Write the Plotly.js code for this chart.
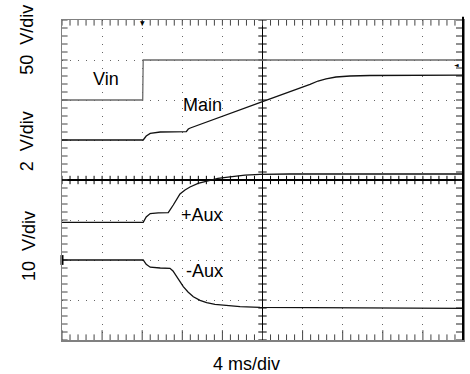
<!DOCTYPE html>
<html>
<head>
<meta charset="utf-8">
<script src="https://cdn.plot.ly/plotly-3.0.1.min.js"></script>
<style>
  html, body {margin: 0; padding: 0; background: #fff;}
  #scope {width: 470px; height: 374px;}
</style>
</head>
<body>
<div id="scope"></div>
<script>
// time in ms (trigger at 0), voltages in volts
const vinT = [-8, 0.05, 0.1, 32]
const vinV = [0, 0, 50, 50]

const mainT = [-8, 0.1, 0.4, 0.8, 1.8, 4.4, 4.6, 4.8, 12.0, 15.74, 16.74, 17.54, 18.34, 19.33, 20.73, 22.72, 32]
const mainV = [0, 0, 0.2, 0.33, 0.4, 0.42, 0.55, 0.6, 1.92, 2.585, 2.785, 2.95, 3.06, 3.15, 3.2, 3.225, 3.24]

const auxPT = [-8, 0.1, 0.4, 0.8, 1.6, 2.6, 3.1, 3.44, 3.77, 4.27, 4.77, 5.57, 6.43, 7.56, 8.76, 10.25, 11.75, 14.7, 32]
const auxPV = [-0.6, -0.6, 0.75, 1.6, 1.8, 1.83, 3.75, 5.25, 6.5, 7.5, 8.25, 9.13, 9.75, 10.4, 10.8, 11.2, 11.4, 11.5, 11.5]

const auxNT = [-8, 0.1, 0.4, 0.8, 1.8, 2.77, 3.07, 3.44, 3.77, 4.1, 4.57, 5.1, 5.77, 6.43, 7.26, 8.09, 9.76, 11.75, 32]
const auxNV = [0, 0, -1.1, -1.8, -2, -2.08, -2.75, -4.18, -5.5, -6.68, -8, -9.18, -10.08, -10.68, -11.08, -11.33, -11.68, -11.83, -12.08]

// scope settings: time/div, trigger position and per-channel volts/div + ground (divs above centre)
const msPerDiv = 4
const triggerDiv = -3
const vin = {perDiv: 50, ground: 2}
const main = {perDiv: 2, ground: 1}
const auxP = {perDiv: 10, ground: -1}
const auxN = {perDiv: 10, ground: -2}

const font = {family: "Liberation Sans, Arial, sans-serif", size: 18, color: "#000"}
const tickGrey = "#444"

const graticule = (range) => ({
  range, fixedrange: true, showticklabels: false, ticks: "",
  showgrid: true, gridcolor: "#666", gridwidth: 1, griddash: "1px,7px", dtick: 1, tick0: 0,
  zeroline: true, zerolinecolor: "#000", zerolinewidth: 1.5,
  showline: true, mirror: true, linecolor: "#808080", linewidth: 1.5
})

// screen divisions from the channel settings
const toX = t => t.map(v => v / msPerDiv + triggerDiv)
const toY = (vals, ch) => vals.map(v => v / ch.perDiv + ch.ground)

const trace = (t, v, ch, color) => ({
  x: toX(t), y: toY(v, ch), type: "scatter", mode: "lines",
  line: {color, width: 1.3}, hoverinfo: "skip", showlegend: false
})

// graticule ticks: line markers centred on the frame, the outer half clipped away
const tickRow = (xs, ys, symbol, size, color) => ({
  x: xs, y: ys, type: "scatter", mode: "markers", cliponaxis: true,
  marker: {symbol, size, color, line: {color, width: 1}}, hoverinfo: "skip", showlegend: false
})
const fifthsX = Array.from({length: 51}, (_, i) => -5 + i / 5)
const fifthsY = Array.from({length: 41}, (_, i) => -4 + i / 5)
const divsX = fifthsX.filter((_, i) => i % 5 === 0)
const minorX = fifthsX.filter((_, i) => i % 5 !== 0)

const data = [
  tickRow(minorX, minorX.map(() => -4), "line-ns-open", 8, tickGrey),
  tickRow(divsX, divsX.map(() => -4), "line-ns-open", 14, tickGrey),
  tickRow(fifthsX, fifthsX.map(() => 4), "line-ns-open", 8, tickGrey),
  tickRow(fifthsY.map(() => -5), fifthsY, "line-ew-open", 8, tickGrey),
  tickRow(fifthsY.map(() => 5), fifthsY, "line-ew-open", 10, "#222"),
  tickRow(fifthsX, fifthsX.map(() => 0), "line-ns-open", 6, "#000"),
  tickRow(fifthsY.map(() => 0), fifthsY, "line-ew-open", 6, "#000"),
  trace(vinT, vinV, vin, "#6a6a6a"),
  trace(mainT, mainV, main, "#111"),
  trace(auxPT, auxPV, auxP, "#111"),
  trace(auxNT, auxNV, auxN, "#111"),
  // -Aux ground marker on the left edge
  {x: [-5], y: [auxN.ground], type: "scatter", mode: "markers", cliponaxis: false,
   marker: {symbol: "line-ns-open", size: 7, color: "#000", line: {color: "#000", width: 3}},
   hoverinfo: "skip", showlegend: false}
]

const label = (text, x, y, extra) => Object.assign({
  text, x, y, xref: "paper", yref: "paper", showarrow: false,
  xanchor: "center", yanchor: "middle", font
}, extra)

const layout = {
  width: 470, height: 374,
  margin: {l: 62, r: 7, t: 20, b: 34},
  paper_bgcolor: "#fff", plot_bgcolor: "#fff",
  showlegend: false,
  xaxis: graticule([-5, 5]),
  yaxis: graticule([-4, 4]),
  shapes: [{type: "line", xref: "paper", yref: "paper", x0: 1, x1: 1, y0: 0, y1: 1.01,
            line: {color: "#000", width: 2}}],
  annotations: [
    label("Vin", 0.109, 0.817),
    label("Main", 0.350, 0.734),
    label("+Aux", 0.349, 0.392),
    label("-Aux", 0.356, 0.216),
    label("4 ms/div", 0.461, -0.074),
    label("50  V/div", -0.088, 0.937, {textangle: -90}),
    label("2  V/div", -0.088, 0.62, {textangle: -90}),
    label("10  V/div", -0.082, 0.294, {textangle: -90}),
    {text: "▼", x: triggerDiv, y: 1, xref: "x", yref: "paper", yanchor: "top", showarrow: false,
     font: {family: "DejaVu Sans", size: 6, color: "#000"}, yshift: 3},
    {text: "◄", x: 1, y: 45 / vin.perDiv + vin.ground, xref: "paper", yref: "y", xanchor: "right", showarrow: false,
     font: {family: "DejaVu Sans", size: 6, color: "#000"}, xshift: -2}
  ]
}

Plotly.newPlot("scope", data, layout, {staticPlot: true, displayModeBar: false})
</script>
</body>
</html>
